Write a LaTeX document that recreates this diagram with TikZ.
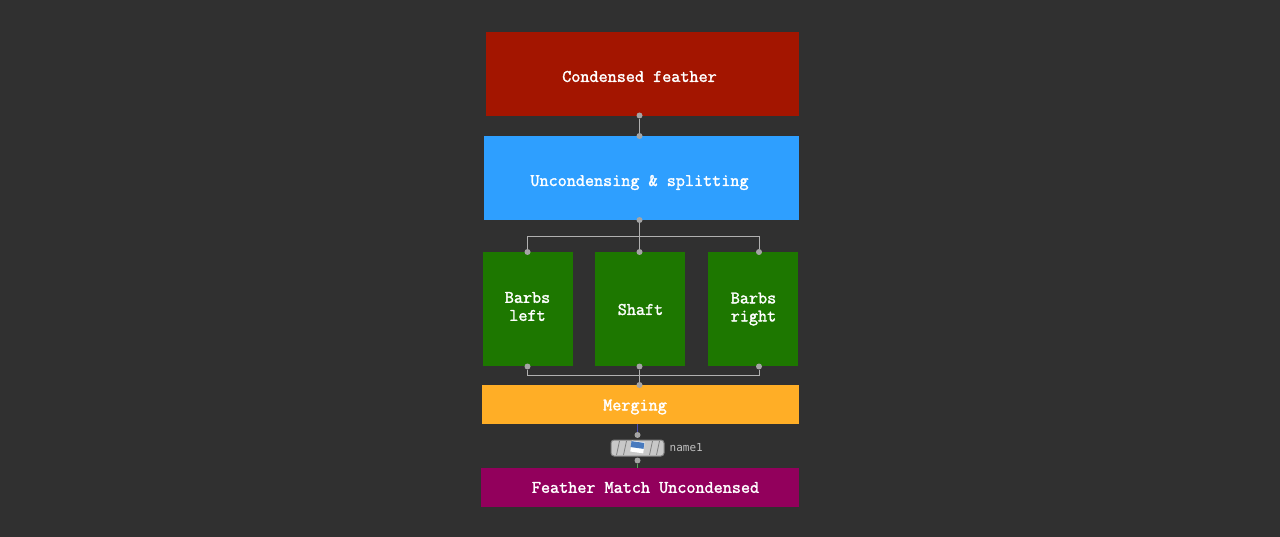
\documentclass[tikz,border=0pt]{standalone}
\usepackage{fontspec}
\setsansfont{DejaVu Sans Mono}
\setmonofont[FakeBold=1.8]{Latin Modern Mono}
\usepackage{tikz}
\usetikzlibrary{positioning}
\definecolor{bgdark}{RGB}{48,48,48}
\definecolor{redbox}{RGB}{163,21,0}
\definecolor{bluebox}{RGB}{46,159,255}
\definecolor{greenbox}{RGB}{29,119,0}
\definecolor{orangebox}{RGB}{255,174,38}
\definecolor{purplebox}{RGB}{146,0,92}
\definecolor{wiregray}{RGB}{176,176,176}
\definecolor{portgray}{RGB}{165,165,165}
\definecolor{nullgray}{RGB}{200,200,200}
\definecolor{nullicon}{RGB}{72,122,190}

\begin{document}
\begin{tikzpicture}[x=1pt,y=-1pt,node distance=20pt,
	box node/.style={rectangle,inner sep=0pt,outer sep=0pt,minimum width=#1},
	box node/.default=90pt,
	title node/.style={font=\ttfamily\fontsize{17.65}{18}\selectfont,text=white,align=center,inner sep=0pt},
	port node/.style={circle,fill=portgray,inner sep=0pt,minimum size=6pt},
	wire/.style={draw=wiregray,line width=1pt}]

	\fill[bgdark] (0,0) rectangle (1280,537);
	\useasboundingbox (0,0) rectangle (1280,537);

	% boxes, top to bottom
	\node[box node=313pt, fill=redbox, minimum height=84pt] (red) at (642.5,74) {};
	\node[box node=315pt, fill=bluebox, minimum height=84pt] (blue) [below=20pt of red, xshift=-1pt] {};
	\node[box node, fill=greenbox, minimum height=114pt] (shaft) [below=32pt of blue, xshift=-1.5pt] {};
	\node[box node, fill=greenbox, minimum height=114pt] (left) [left=22pt of shaft] {};
	\node[box node, fill=greenbox, minimum height=114pt] (right) [right=23pt of shaft] {};
	\node[box node=317pt, fill=orangebox, minimum height=39pt] (merge) [below=19pt of shaft, xshift=.5pt] {};
	\node[box node=318pt, fill=purplebox, minimum height=39pt] (match) [below=44pt of merge, xshift=-.5pt] {};

	% texts
	\node[title node] (redtext) at (639.5,76.5) {Condensed feather};
	\node[title node] (bluetext) at (639.5,182.5) {Uncondensing \& splitting};
	\node[title node] (lefttext) at (527.5,306.5) {Barbs\\left};
	\node[title node] (shafttext) at (640.5,309.5) {Shaft};
	\node[title node] (righttext) at (753.5,309) {Barbs\\right};
	\node[title node] (mergetext) at (635,407) {Merging};
	\node[title node] (matchtext) at (645.5,487.5) {Feather Match Uncondensed};

	% the null in the middle
	\node[rectangle,rounded corners=3pt,draw=black!50,fill=nullgray,line width=1pt,
		minimum width=53pt,minimum height=16pt,inner sep=0pt] (null) at (637.5,448) {};
	\foreach \sx in {618,625,651,658}
		\draw[black!50,line width=.8pt] (\sx+1.5,441) -- (\sx-1.5,455);
	\node[rectangle,fill=white,minimum width=13pt,minimum height=11pt,inner sep=0pt,rotate=-8] (nullback) at (637.5,447) {};
	\node[rectangle,fill=nullicon,minimum width=13pt,minimum height=6pt,inner sep=0pt,rotate=-8] (nullmark) at (637.5,445) {};
	\node[right=5pt of null, font=\sffamily\fontsize{11}{12}\selectfont, text=black!25, inner sep=0pt] (namelabel) {name1};

	% ports
	\node[port node] (redout) at (639.5,115.5) {};
	\node[port node] (bluein) at (639.5,136) {};
	\node[port node] (blueout) at (639.5,220) {};
	\node[port node] (leftin) at (527.5,252) {};
	\node[port node] (shaftin) at (639.5,252) {};
	\node[port node] (rightin) at (759,252) {};
	\node[port node] (leftout) at (527.5,366.5) {};
	\node[port node] (shaftout) at (639.5,366.5) {};
	\node[port node] (rightout) at (759,366.5) {};
	\node[port node] (mergein) at (639.5,385) {};
	\node[port node] (nullin) at (637.5,435) {};
	\node[port node] (nullout) at (637.5,460.5) {};
	\coordinate (splitbus) at (639.5,236.5);
	\coordinate (mergebus) at (639.5,375.5);
	\coordinate (mergebottom) at (637.5,424);
	\coordinate (matchtop) at (637.5,468);

	\path[wire]
	(redout) edge (bluein)
	(blueout) edge (shaftin)
	(shaftout) edge (mergein);
	\draw[wire] (leftin) |- (splitbus) -| (rightin);
	\draw[wire] (leftout) |- (mergebus) -| (rightout);
	\draw[line width=1pt,draw=blue!40!gray] (mergebottom) -- (nullin);
	\draw[line width=1pt,draw=green!30!gray] (nullout) -- (matchtop);
\end{tikzpicture}
\end{document}
